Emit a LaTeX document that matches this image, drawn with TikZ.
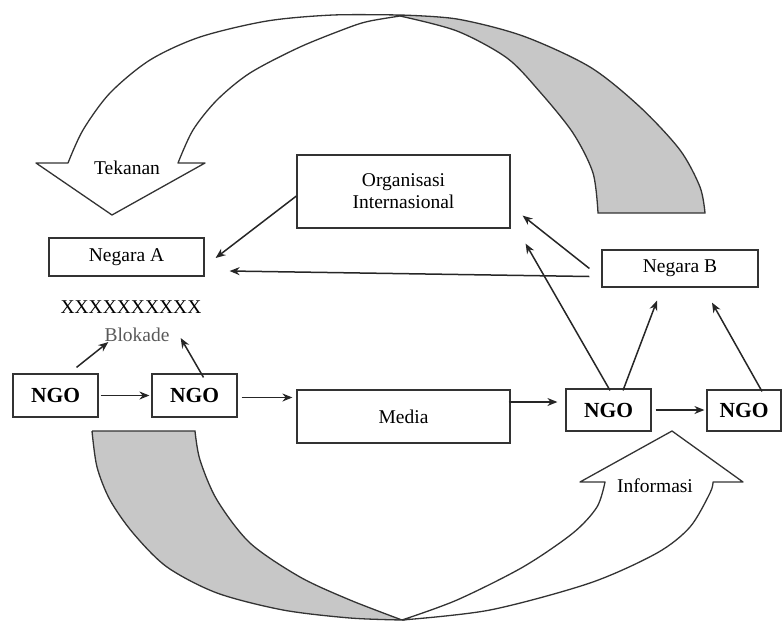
\documentclass[tikz,border=0pt]{standalone}
\usepackage{fontspec}
\setmainfont{Liberation Serif}
\usetikzlibrary{arrows.meta}

\begin{document}
\begin{tikzpicture}[
			x=1pt, y=-1pt, >={Stealth[length=10pt,width=8pt]},
			box/.style={draw=black!80, line width=1.2pt, inner sep=0pt, align=center,
				font=\fontsize{19.5}{22}\selectfont},
			ngobox/.style={box, minimum width=85pt, minimum height=43pt,
				font=\fontsize{21.5}{24}\selectfont\bfseries},
			link/.style={->, line width=1.5pt, black!85},
			band/.style={line width=1.3pt, black!80},
			bandfill/.style={fill=black!22},
			lbl/.style={font=\fontsize{19.5}{22}\selectfont}
			]
			\useasboundingbox (0,0) rectangle (782,622);
			
			% =========================================================
			% kotak-kotak aktor
			% =========================================================
			\node[box, minimum width=213pt, minimum height=73pt] (org) at (403.5,191.5)
			{Organisasi\\Internasional};
			\node[box, minimum width=155pt, minimum height=38pt] (negA) at (126.5,257) {Negara A};
			\node[box, minimum width=156pt, minimum height=37pt] (negB) at (680,268.5) {Negara B};
			\node[box, minimum width=213pt, minimum height=53pt] (media) at (403.5,416.5) {Media};
			
			\node[ngobox] (ngo1) at (55.5,395.5) {NGO};
			\node[ngobox] (ngo2) at (194.5,395.5) {NGO};
			\node[ngobox, minimum height=42pt] (ngo3) at (608.5,410) {NGO};
			\node[ngobox, minimum width=74pt, minimum height=41pt] (ngo4) at (744,410.5) {NGO};
			
			% blokade terhadap negara A
			\node[lbl] (xrow) at (131,307) {XXXXXXXXXX};
			\node[lbl, text=black!65, inner sep=1pt] (blok) at (137,335) {Blokade};
			
			% =========================================================
			% panah besar atas: Tekanan
			% =========================================================
			\fill[bandfill] plot[smooth] coordinates {(400,15) (457,19) (523,36) (590,67) (640,107) (680,150) (700,187) (705,213)}
			-- (598,213)
			-- plot[smooth] coordinates {(598,213) (593,173) (573,133) (540,92) (507,58) (457,31) (400,16)} -- cycle;
			\draw[band] plot[smooth] coordinates {(400,15) (457,19) (523,36) (590,67) (640,107) (680,150) (700,187) (705,213)}
			-- (598,213)
			-- plot[smooth] coordinates {(598,213) (593,173) (573,133) (540,92) (507,58) (457,31) (400,16)};
			% sisi kiri (putih) + kepala panah
			\draw[band, line join=round] plot[smooth] coordinates {(400,15) (333,15) (267,21) (200,37) (150,60) (110,93) (83,130) (68,163)}
			-- (36,163) -- (112,215) -- (205,163) -- (178,163)
			-- plot[smooth] coordinates {(178,163) (193,130) (217,100) (250,73) (300,47) (350,27) (370,21) (400,16)};
			\node[lbl] (tekanan) at (127,168) {Tekanan};
			
			% =========================================================
			% panah besar bawah: Informasi
			% =========================================================
			\fill[bandfill] (92,431) -- (195,431)
			-- plot[smooth] coordinates {(195,431) (200,460) (217,500) (250,543) (300,577) (350,600) (402,620)}
			-- plot[smooth] coordinates {(402,620) (350,618) (283,610) (217,593) (167,567) (133,533) (110,500) (97,467) (92,431)} -- cycle;
			\draw[band] (92,431) -- (195,431)
			-- plot[smooth] coordinates {(195,431) (200,460) (217,500) (250,543) (300,577) (350,600) (402,620)}
			-- plot[smooth] coordinates {(402,620) (350,618) (283,610) (217,593) (167,567) (133,533) (110,500) (97,467) (92,431)};
			% sisi kanan (putih) + kepala panah
			\draw[band, line join=round] plot[smooth] coordinates {(402,620) (457,600) (523,567) (573,533) (597,507) (605,482)}
			-- (580,482) -- (672,431) -- (743,482) -- (713,482)
			-- plot[smooth] coordinates {(713,482) (710,493) (690,527) (657,553) (590,583) (490,610) (402,620)};
			\node[lbl] (informasi) at (655,486) {Informasi};
			
			% =========================================================
			% panah-panah kecil
			% =========================================================
			\draw[link] ([yshift=-4.5pt]org.west) -- ([xshift=11pt,yshift=-1pt]negA.east);
			\draw[link] ([xshift=-12pt,yshift=-8pt]negB.west) -- ([xshift=25pt,yshift=-14pt]negA.east);
			\draw[link] ([xshift=-12pt]negB.west) -- ([xshift=12pt,yshift=13pt]org.south east);
			\draw[link] ([xshift=1.5pt,yshift=-2pt]ngo3.north) -- ([xshift=15pt,yshift=-15pt]org.south east);
			\draw[link] ([xshift=14.5pt,yshift=-2pt]ngo3.north) -- ([xshift=-23pt,yshift=-13pt]negB.south);
			\draw[link] ([xshift=18pt,yshift=-2pt]ngo4.north) -- ([xshift=32pt,yshift=-15pt]negB.south);
			
			\draw[link] ([xshift=21pt,yshift=6pt]ngo1.north) -- ([xshift=5pt,yshift=1pt]blok.south west);
			\draw[link] ([xshift=9pt,yshift=-4pt]ngo2.north) -- ([xshift=10pt,yshift=-3pt]blok.east);
			
			% arus informasi mendatar
			\draw[link, shorten <=2pt, shorten >=2pt] (ngo1.east) -- (ngo2.west);
			\draw[link, shorten <=4pt, shorten >=4pt] ([yshift=-2pt]ngo2.east) -- ([yshift=-2pt]ngo2.east -| media.west);
			\coordinate (mn) at ([yshift=8pt]ngo3.west);
			\draw[link, shorten <=-2pt, shorten >=8pt] (mn -| media.east) -- (mn);
			\draw[link, shorten <=4pt, shorten >=2pt] (ngo3.east) -- (ngo3.east -| ngo4.west);
			
		\end{tikzpicture}
\end{document}
